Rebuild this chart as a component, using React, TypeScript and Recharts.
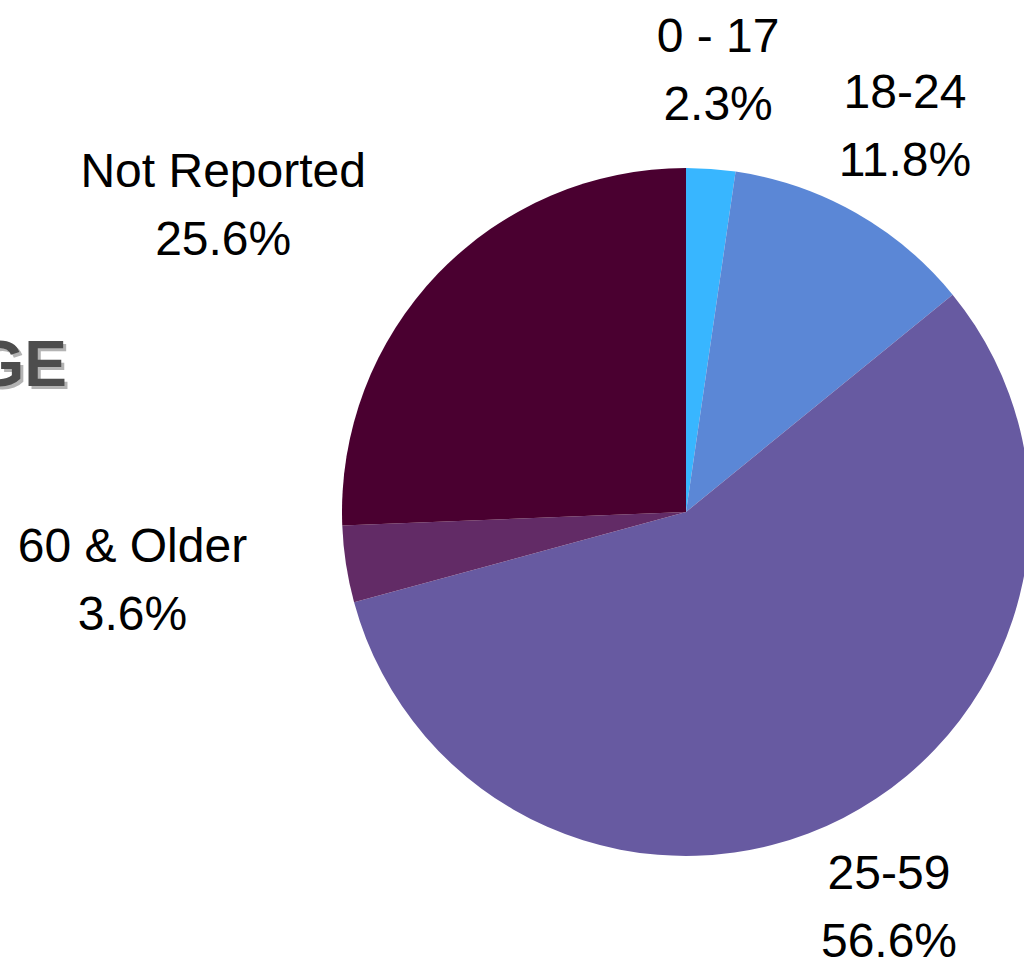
import { PieChart, Pie, Cell } from 'recharts';

const categories = ['0 - 17', '18-24', '25-59', '60 & Older', 'Not Reported'];
const shares = [2.3, 11.8, 56.6, 3.6, 25.6];
const colors = ['#38b6ff', '#5b87d6', '#675aa1', '#622b66', '#4a0030'];

const data = categories.map((name, i) => ({ name, value: shares[i] }));

const RADIAN = Math.PI / 180;
const FONT = '48px "Liberation Sans", Arial, sans-serif';

let ctx: CanvasRenderingContext2D | null = null;
function textWidth(s: string) {
  if (!ctx) ctx = document.createElement('canvas').getContext('2d');
  if (!ctx) return s.length * 24;
  ctx.font = FONT;
  return ctx.measureText(s).width;
}

const renderLabel = (props: any) => {
  const { cx, cy, midAngle, outerRadius, name, value } = props;
  const r = outerRadius + 100;
  const px = cx + r * Math.cos(-midAngle * RADIAN);
  const py = cy + r * Math.sin(-midAngle * RADIAN);
  const pct = `${Number(value).toFixed(1)}%`;
  let x = px;
  // left-hand labels are right-aligned against the anchor point
  if (Math.cos(-midAngle * RADIAN) < 0) {
    x = px - Math.max(textWidth(name), textWidth(pct)) / 2;
  }
  return (
    <text
      x={x}
      y={py}
      textAnchor="middle"
      fill="#000"
      style={{ font: FONT }}
    >
      <tspan x={x} y={py - 34} dominantBaseline="central">{name}</tspan>
      <tspan x={x} y={py + 34} dominantBaseline="central">{pct}</tspan>
    </text>
  );
};

export default function App() {
  return (
    <div style={{ position: 'absolute', left: 0, top: 0, width: 1024, height: 967, overflow: 'hidden', background: '#fff' }}>
      <svg width={200} height={420} style={{ position: 'absolute', left: 0, top: 0 }}>
        <text x={70} y={389} textAnchor="end" fill="#b3b3b3"
          style={{ font: 'bold 64px "Liberation Sans", Arial, sans-serif' }}>AGE</text>
        <text x={67} y={386} textAnchor="end" fill="#4d4d4d"
          style={{ font: 'bold 64px "Liberation Sans", Arial, sans-serif' }}>AGE</text>
      </svg>
      <div style={{ position: 'absolute', left: 0, top: 0 }}>
        <PieChart width={1024} height={967} margin={{ top: 0, right: 0, bottom: 0, left: 0 }}>
          <Pie
            data={data}
            dataKey="value"
            nameKey="name"
            cx={686}
            cy={512}
            outerRadius={344}
            startAngle={90}
            endAngle={-270}
            stroke="none"
            labelLine={false}
            label={renderLabel}
            isAnimationActive={false}
          >
            {data.map((entry, i) => (
              <Cell key={entry.name} fill={colors[i]} />
            ))}
          </Pie>
        </PieChart>
      </div>
    </div>
  );
}
